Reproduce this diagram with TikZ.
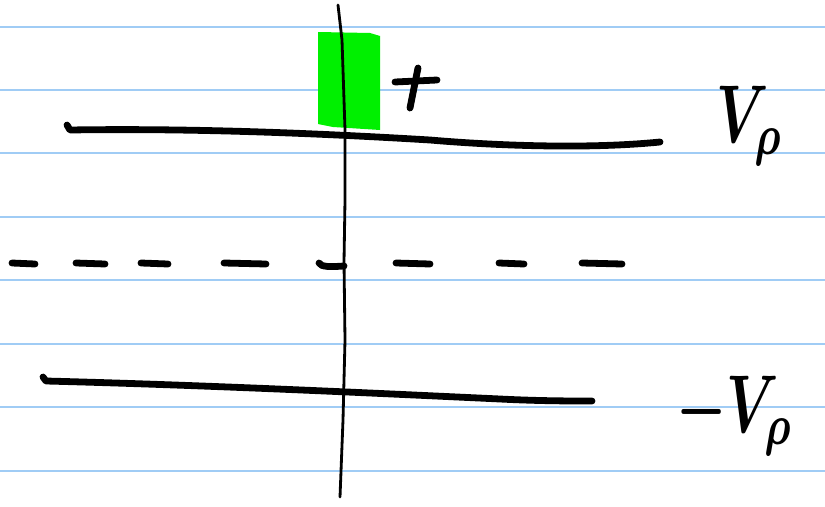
\documentclass[tikz,border=0pt]{standalone}
\usepackage{xcolor}
\usepackage{graphicx}
\usepackage{tikz}
\definecolor{rule}{RGB}{160, 204, 245}
\definecolor{marker}{RGB}{0, 240, 0}

\begin{document}
\begin{tikzpicture}[
    x=0.03cm, y=-0.03cm,
    ruling/.style={rule, line width=1.1pt},
    ink/.style={black, line width=5.8pt, line cap=round, line join=round},
    pen/.style={black, line width=2.4pt, line cap=round},
    lbl/.style={inner sep=0pt, anchor=base west, font=\boldmath}
  ]
  \useasboundingbox (0,0) rectangle (825,506);
  \fill[white] (0,0) rectangle (825,506);

  % paper lines
  \foreach \y in {27, 90, 153, 217, 280, 344, 407, 471}
    \draw[ruling] (0,\y) -- (825,\y);

  % green probe
  \fill[marker] (318,32) -- (370,33) -- (380,36) -- (380,130) -- (333,127) -- (318,124) -- cycle;

  % axis
  \draw[pen] (338,5) -- (342,40) -- (345,130) -- (345,200) -- (344,262) -- (345,340) -- (343,420) -- (340,497);

  % plates
  \draw[ink] (67,125) -- (70,130) .. controls (200,128) and (330,134) .. (430,140)
    .. controls (500,146) and (590,149) .. (660,142);
  \draw[ink] (43,377) -- (46,381) .. controls (200,385) and (350,392) .. (500,399)
    .. controls (540,401) and (570,401) .. (592,401);

  % midplane
  \foreach \a/\b in {12/35, 76/105, 141/168, 224/266, 396/430, 499/524, 582/622}
    \draw[ink] (\a,263) -- (\b,264);
  \draw[ink] (319,263) .. controls (321,267) and (330,267) .. (344,266);

  % labels
  \draw[ink] (395,82) -- (437,80);
  \draw[ink] (418,68) -- (410,108);
  \node[lbl] (vtop) at (716,142) {\scalebox{4.8}[7]{$V_\rho$}};
  \node[lbl] (vbot) at (676,432) {\scalebox{4.8}[7]{$-V_\rho$}};
\end{tikzpicture}
\end{document}
